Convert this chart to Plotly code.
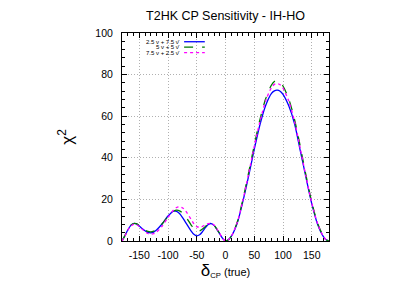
import plotly.graph_objects as go

delta_cp = [-180, -175, -170, -165, -160, -155, -150, -145, -140, -135, -130, -125, -120,
            -110, -100, -90, -85, -80, -75, -70, -60, -55, -50, -45, -40, -35, -30, -25,
            -20, -15, -10, -5, 0, 5, 10, 20, 30, 40, 50, 60, 70, 80, 85, 90, 95, 100,
            110, 120, 130, 140, 150, 160, 170, 175, 180]

chi2_25_75 = [0, 2.5, 5.3, 7.4, 8.4, 8.2, 7.2, 6.0, 4.9, 4.1, 3.9, 4.3, 5.3,
              8.3, 12.0, 14.5, 14.2, 13.2, 11.4, 9.2, 4.9, 3.2, 2.5, 3.0, 4.5, 6.4, 7.9, 8.4,
              7.5, 5.6, 3.4, 1.3, 0, 0.6, 2.2, 8.3, 18.8, 31, 44, 56, 65.3, 71, 72.2, 72.5, 72, 70.5,
              65, 56.5, 43.5, 30.5, 18, 8.2, 2.2, 0.6, 0]

chi2_5_5 = [0, 2.6, 5.4, 7.5, 8.4, 8.3, 7.4, 6.3, 5.3, 4.6, 4.4, 4.7, 5.5,
            8.3, 11.8, 14.3, 14.8, 14.5, 13.5, 12.0, 7.8, 5.9, 4.9, 4.9, 5.8, 7.0, 8.1, 8.5,
            7.6, 5.7, 3.5, 1.3, 0, 0.6, 2.3, 8.7, 19.6, 32.5, 46, 58.5, 68.5, 75, 76.7, 77, 76.3, 74.5,
            68.3, 58.5, 45.5, 31.5, 18.7, 8.6, 2.4, 0.6, 0]

chi2_75_25 = [0, 2.4, 5.1, 7.1, 8.0, 7.9, 7.0, 5.7, 4.5, 3.6, 3.3, 3.5, 4.3,
              7.2, 11.3, 15.0, 16.1, 16.4, 16.0, 14.7, 10.5, 8.3, 6.9, 6.6, 7.0, 7.8, 8.4, 8.5,
              7.7, 5.8, 3.6, 1.3, 0, 0.6, 2.2, 8.5, 19.3, 32, 45.5, 57.5, 67.5, 73.8, 75.3, 75.7, 75.1, 73.5,
              67.3, 57.5, 44.5, 31, 18.3, 8.5, 2.3, 0.6, 0]

series_names = ["2.5 ν + 7.5 ν̄", "5 ν + 5 ν̄", "7.5 ν + 2.5 ν̄"]
x_ticks = [-150, -100, -50, 0, 50, 100, 150]
y_ticks = [0, 20, 40, 60, 80, 100]

styles = [
    dict(color="#0000ff", dash="solid", width=1.3),
    dict(color="#007a00", dash="dash", width=1.3),
    dict(color="#ff00ff", dash="dot", width=1.3),
]

W, H = 407, 282  # page body adds ~8px offset

fig = go.Figure()
for name, ys, st in zip(series_names, [chi2_25_75, chi2_5_5, chi2_75_25], styles):
    fig.add_trace(go.Scatter(x=delta_cp, y=ys, mode="lines", name=name,
                             line=dict(color=st["color"], dash=st["dash"], width=st["width"],
                                       shape="spline", smoothing=0.8),
                             showlegend=False))

# legend drawn as text + line samples (text on left, sample on right)
leg_y = [0.958, 0.932, 0.906]
for name, st, yy in zip(series_names, styles, leg_y):
    fig.add_annotation(x=0.288, y=yy, xref="paper", yref="paper", text=name,
                       showarrow=False, xanchor="right", yanchor="middle",
                       font=dict(size=6, color="black"))
    fig.add_shape(type="line", xref="paper", yref="paper", x0=0.30, x1=0.40, y0=yy, y1=yy,
                  line=dict(color=st["color"], dash=st["dash"], width=st["width"]))

fig.update_layout(
    width=W, height=H,
    margin=dict(l=113.5, r=85.5, t=25, b=49),
    paper_bgcolor="white", plot_bgcolor="white",
    font=dict(family="Liberation Sans, Arial, sans-serif", size=10.5, color="black"),
    title=dict(text="T2HK CP Sensitivity - IH-HO", x=0.5, xref="paper", xanchor="center",
               y=1 - 8 / H, yref="container", yanchor="middle", font=dict(size=12.5)),
)

fig.update_xaxes(
    range=[-180, 180], tickmode="array", tickvals=x_ticks, ticktext=[str(v) for v in x_ticks],
    ticks="inside", ticklen=5, tickcolor="black", showline=True, linecolor="black", linewidth=1,
    mirror="allticks", zeroline=False,
    showgrid=True, gridcolor="#b0b0b0", griddash="1px,2px", gridwidth=1,
    minor=dict(dtick=10, tick0=0, ticks="inside", ticklen=3, tickcolor="black", showgrid=False),
    ticklabelstandoff=4,
    title=dict(text="<span style='font-size:17px'>δ</span><sub>CP</sub> (true)", standoff=6,
               font=dict(size=11)),
)
fig.update_yaxes(
    range=[0, 100], tickmode="array", tickvals=y_ticks, ticktext=[str(v) for v in y_ticks],
    ticks="inside", ticklen=5, tickcolor="black", showline=True, linecolor="black", linewidth=1,
    mirror="allticks", zeroline=False,
    showgrid=True, gridcolor="#b0b0b0", griddash="1px,2px", gridwidth=1,
    minor=dict(dtick=4, tick0=0, ticks="inside", ticklen=3, tickcolor="black", showgrid=False),
    ticklabelstandoff=6,
    title=dict(text="χ<sup>2</sup>", standoff=17, font=dict(size=17)),
)

fig.write_html("out.html")
